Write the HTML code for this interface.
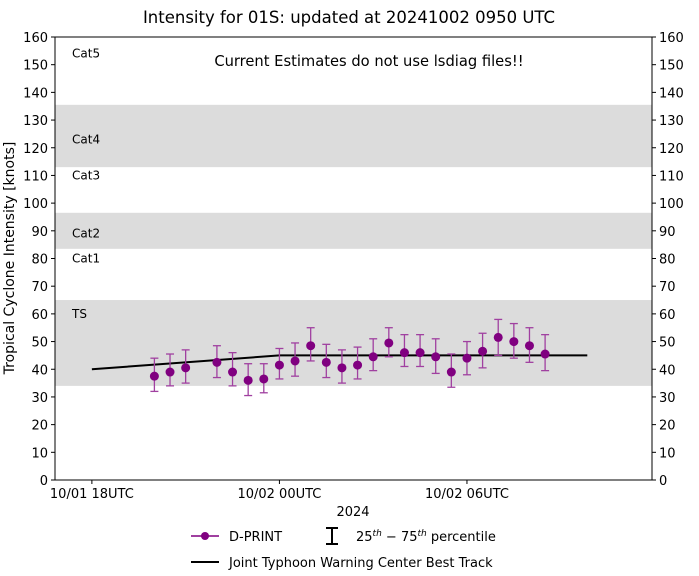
<!DOCTYPE html>
<html><head><meta charset="utf-8"><style>
body{margin:0;background:#fff;font-family:"Liberation Sans","DejaVu Sans",sans-serif}
svg text{font-family:"DejaVu Sans","Liberation Sans",sans-serif}
</style></head><body>
<svg id="chart" width="699" height="571" xmlns="http://www.w3.org/2000/svg">
<text x="349" y="23" text-anchor="middle" font-size="16.5">Intensity for 01S: updated at 20241002 0950 UTC</text>
<g id="bands"></g>
<g id="grid"></g>
<g id="series"></g>
<rect x="55" y="37" width="597" height="443" fill="none" stroke="#000" stroke-width="1"/>
<text x="369" y="66" text-anchor="middle" font-size="14.7">Current Estimates do not use lsdiag files!!</text>
<text x="14" y="258" text-anchor="middle" font-size="14" transform="rotate(-90 14 258)">Tropical Cyclone Intensity [knots]</text>
<text x="353" y="516" text-anchor="middle" font-size="13">2024</text>
<g>
<g>
<line x1="191" y1="536" x2="219" y2="536" stroke="#800080" stroke-width="1.5"/>
<circle cx="205" cy="536" r="4" fill="#800080"/>
<text x="229" y="541" font-size="13">D-PRINT</text></g>
<g>
<path d="M326 528h12M332 528v16M326 544h12" stroke="#000" stroke-width="2" fill="none"/>
<text x="356" y="541" font-size="13">25<tspan font-size="9" dy="-5" font-style="italic">th</tspan><tspan dy="5"> − 75</tspan><tspan font-size="9" dy="-5" font-style="italic">th</tspan><tspan dy="5"> percentile</tspan></text></g>
<g>
<line x1="191" y1="562" x2="219" y2="562" stroke="#000" stroke-width="2"/>
<text x="229" y="567" font-size="13">Joint Typhoon Warning Center Best Track</text></g>
</g>
</svg>
<script>
const hours=[2,2.5,3,4,4.5,5,5.5,6,6.5,7,7.5,8,8.5,9,9.5,10,10.5,11,11.5,12,12.5,13,13.5,14,14.5];
const medians=[37.5,39,40.5,42.5,39,36,36.5,41.5,43,48.5,42.5,40.5,41.5,44.5,49.5,46,46,44.5,39,44,46.5,51.5,50,48.5,45.5];
const p25=[32,34,35,37,34,30.5,31.5,36.5,37.5,43,37,35,36.5,39.5,44.5,41,41,38.5,33.5,38,40.5,45,44,42.5,39.5];
const p75=[44,45.5,47,48.5,46,42,42,47.5,49.5,55,49,47,48,51,55,52.5,52.5,51,45.5,50,53,58,56.5,55,52.5];
const btHours=[0,6,12,15.85];
const btValues=[40,45,45,45];
const yTicks=[0,10,20,30,40,50,60,70,80,90,100,110,120,130,140,150,160];
const xTickHours=[0,6,12];
const xTickLabels=["10/01 18UTC","10/02 00UTC","10/02 06UTC"];
const bandLo=[34,83.5,113];
const bandHi=[65,96.5,135.5];
const catNames=["TS","Cat1","Cat2","Cat3","Cat4","Cat5"];
const catValues=[60,80,89,110,123,154];

const NS="http://www.w3.org/2000/svg";
const X0=55,X1=652,Y0=480,Y1=37,HMIN=-1.18,HMAX=17.92;
const xs=h=>X0+(h-HMIN)/(HMAX-HMIN)*(X1-X0);
const ys=v=>Y0-v/160*(Y0-Y1);
function mk(p,t,a){const e=document.createElementNS(NS,t);for(const k in a)e.setAttribute(k,a[k]);p.appendChild(e);return e;}
const bands=document.getElementById('bands'),grid=document.getElementById('grid'),ser=document.getElementById('series');
bandLo.forEach((lo,i)=>{const r=mk(bands,'rect',{x:X0,y:ys(bandHi[i]),width:X1-X0,height:ys(lo)-ys(bandHi[i]),fill:'#dcdcdc'});

});
catNames.forEach((n,i)=>{const t=mk(bands,'text',{x:72,y:ys(catValues[i])+4,'font-size':12});t.textContent=n;

});
yTicks.forEach(v=>{const y=ys(v);
mk(grid,'line',{x1:X0-4,x2:X0,y1:y,y2:y,stroke:'#000'});mk(grid,'line',{x1:X1,x2:X1+4,y1:y,y2:y,stroke:'#000'});
const t=mk(grid,'text',{x:X0-7,y:y+5,'text-anchor':'end','font-size':13});t.textContent=v;


const t2=mk(grid,'text',{x:X1+7,y:y+5,'font-size':13});t2.textContent=v;

});
xTickHours.forEach((h,i)=>{const x=xs(h);mk(grid,'line',{x1:x,x2:x,y1:Y0,y2:Y0+4,stroke:'#000'});
const t=mk(grid,'text',{x:x,y:Y0+18,'text-anchor':'middle','font-size':13});t.textContent=xTickLabels[i];

});
const bt=mk(ser,'polyline',{points:btHours.map((h,i)=>xs(h)+','+ys(btValues[i])).join(' '),fill:'none',stroke:'#000','stroke-width':2});


hours.forEach((h,i)=>{const x=xs(h),g=mk(ser,'g',{});


const c='#a040a0';
mk(g,'line',{x1:x,x2:x,y1:ys(p25[i]),y2:ys(p75[i]),stroke:c,'stroke-width':1.3});
mk(g,'line',{x1:x-4,x2:x+4,y1:ys(p25[i]),y2:ys(p25[i]),stroke:c,'stroke-width':1.3});
mk(g,'line',{x1:x-4,x2:x+4,y1:ys(p75[i]),y2:ys(p75[i]),stroke:c,'stroke-width':1.3});
mk(g,'circle',{cx:x,cy:ys(medians[i]),r:4.5,fill:'#800080'});});
</script>
</body></html>
